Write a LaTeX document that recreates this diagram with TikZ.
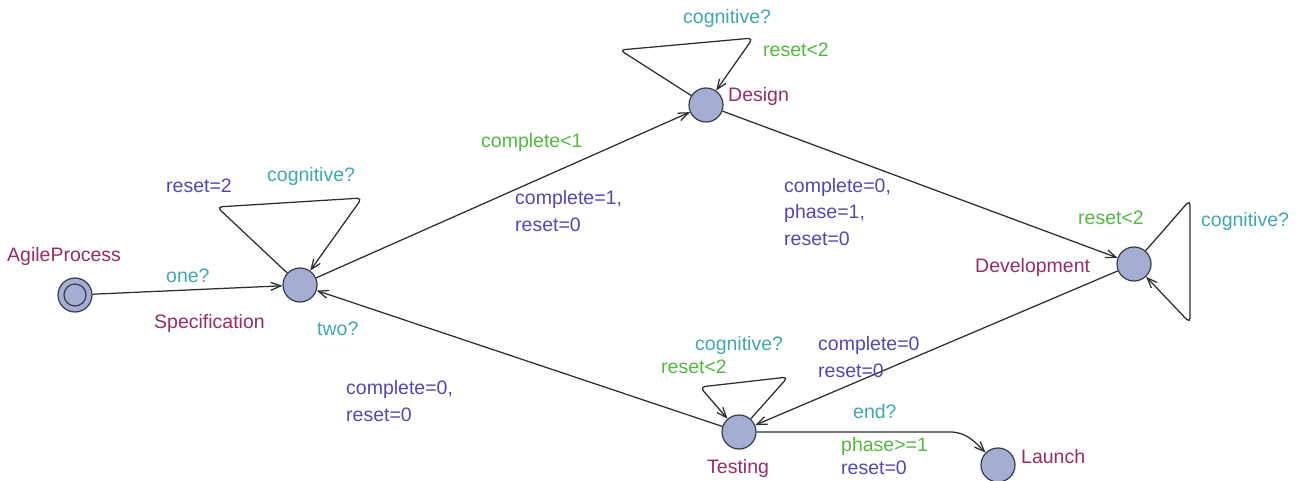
\documentclass[tikz,border=0pt]{standalone}
\usepackage{fontspec}
\setmainfont{Liberation Sans}
\usetikzlibrary{arrows.meta}
\definecolor{locname}{RGB}{150,45,100}
\definecolor{syncol}{RGB}{62,168,178}
\definecolor{guardcol}{RGB}{84,184,64}
\definecolor{assigncol}{RGB}{82,72,180}
\definecolor{nodefill}{RGB}{166,173,210}
\definecolor{nodeedge}{RGB}{55,58,75}
\definecolor{edgecol}{RGB}{45,45,45}
\begin{document}
\begin{tikzpicture}[x=1pt,y=-1pt,
  loc/.style={circle,draw=nodeedge,fill=nodefill,line width=1.2pt,minimum size=34pt,inner sep=0pt},
  trans/.style={draw=edgecol,line width=1.25pt,-{Straight Barb[length=10pt,width=8pt]}},
  looptrans/.style={trans,rounded corners=5pt},
  txt/.style={anchor=base west,inner sep=0pt,align=left,font=\fontsize{19.5}{26.5}\selectfont},
  lname/.style={txt,text=locname},
  lsync/.style={txt,text=syncol},
  lguard/.style={txt,text=guardcol},
  lassign/.style={txt,text=assigncol}]
  % canvas
  \fill[white] (0,0) rectangle (1303,481);
  \useasboundingbox (0,0) rectangle (1303,481);

  % locations
  \node[loc] (agile) at (75,295) {};
  \draw[nodeedge,line width=1.2pt] (agile.center) circle (11pt);
  \node[loc] (spec) at (300,285) {};
  \node[loc] (design) at (706,105) {};
  \node[loc] (dev) at (1134,264) {};
  \node[loc] (test) at (739,432) {};
  \node[loc] (launch) at (998,465) {};

  % location names
  \node[lname] (nagile) at (7,261) {AgileProcess};
  \node[lname] (nspec) at (154,328) {Specification};
  \node[lname] (ndesign) at (728,102) {Design};
  \node[lname] (ndev) at (975,272) {Development};
  \node[lname] (ntest) at (707,473) {Testing};
  \node[lname] (nlaunch) at (1021,463) {Launch};

  % bends of the self loops
  \coordinate (sa) at (217,207);
  \coordinate (sb) at (362,198);
  \coordinate (da) at (620,50);
  \coordinate (db) at (753,38);
  \coordinate (va) at (1190,200);
  \coordinate (vb) at (1190,323);
  \coordinate (ta) at (788,377);
  \coordinate (tb) at (700,387);
  \coordinate (tl) at (950,432);

  % transitions
  \draw[trans] (agile) -- (spec);
  \draw[looptrans] (spec) -- (sa) -- (sb) -- (spec);
  \draw[trans] (spec) -- (design);
  \draw[looptrans] (design) -- (da) -- (db) -- (design);
  \draw[trans] (design) -- (dev);
  \draw[looptrans] (dev) -- (va) -- (vb) -- (dev);
  \draw[trans] (dev) -- (test);
  \draw[looptrans] (test) -- (ta) -- (tb) -- (test);
  \draw[trans] (test) -- (spec);
  \draw[trans] (test) -- (tl) to[out=0,in=135] (launch);

  % transition labels (multi-line labels are placed by their last baseline)
  \node[lsync] (l1) at (166,282) {one?};
  \node[lassign] (l2) at (166,193) {reset=2};
  \node[lsync] (l3) at (267,182) {cognitive?};
  \node[lguard] (l4) at (481,148) {complete<1};
  \node[lassign] (l5) at (515,231) {complete=1,\\reset=0};
  \node[lsync] (l6) at (683,24) {cognitive?};
  \node[lguard] (l7) at (763,57) {reset<2};
  \node[lassign] (l8) at (784,245) {complete=0,\\phase=1,\\reset=0};
  \node[lguard] (l9) at (1078,225) {reset<2};
  \node[lsync] (l10) at (1201,226) {cognitive?};
  \node[lsync] (l11) at (695,350) {cognitive?};
  \node[lguard] (l12) at (661,373) {reset<2};
  \node[lassign] (l13) at (818,377) {complete=0\\reset=0};
  \node[lsync] (l14) at (317,335) {two?};
  \node[lassign] (l15) at (346,421) {complete=0,\\reset=0};
  \node[lsync] (l16) at (853,418) {end?};
  \node[lguard] (l17) at (841,451) {phase>=1};
  \node[lassign] (l18) at (841,474) {reset=0};
\end{tikzpicture}
\end{document}
